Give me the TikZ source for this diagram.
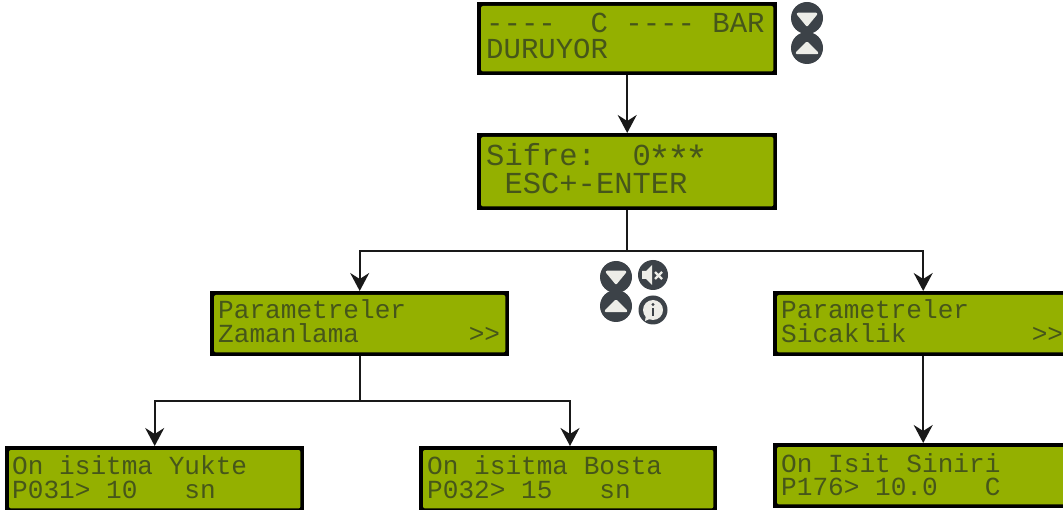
\documentclass[tikz,border=0pt]{standalone}
\usepackage{fontspec}
\newfontfamily\lcdfont{Liberation Mono}
\usetikzlibrary{arrows.meta}
\definecolor{lcdgreen}{HTML}{94B000}
\definecolor{lcdtext}{HTML}{46561A}
\definecolor{icondark}{HTML}{3C4248}
\definecolor{iconlight}{HTML}{EDEDE8}
\tikzset{
  lcdbox/.style={draw=none,fill=black,inner sep=0pt,minimum width=#1,anchor=north west},
  lcdface/.style={fill=lcdgreen,rounded corners=2pt},
  lcdline/.style={anchor=base west,inner sep=0pt,text=lcdtext,font=\lcdfont\fontsize{26.1}{26}\selectfont},
  lcdbig/.style={anchor=base west,inner sep=0pt,text=lcdtext,font=\lcdfont\fontsize{29}{29}\selectfont},
  lcdhuge/.style={anchor=base west,inner sep=0pt,text=lcdtext,font=\lcdfont\fontsize{30.5}{30.5}\selectfont},
  wire/.style={line width=2.2pt,draw=black!90},
  arrowwire/.style={wire,-{Stealth[length=18pt,width=19pt,inset=6pt]}},
  icondisc/.style={circle,fill=icondark,inner sep=0pt,minimum size=#1},
  icontri/.style={fill=iconlight,draw=iconlight,line width=2.5pt,line join=round}
}
\newcommand{\lcd}[5]{% name, x, y, w, h
  \node[lcdbox=#4pt,minimum height=#5pt] (#1) at (#2,#3) {};
  \fill[lcdface] ([xshift=4pt,yshift=-4pt]#1.north west) rectangle ([xshift=-4pt,yshift=4pt]#1.south east);
}
\newcommand{\lcdstar}{\makebox[18.36pt]{\raisebox{-7pt}{\fontsize{38}{38}\selectfont *}}}
\begin{document}
\begin{tikzpicture}[x=1pt,y=-1pt]
\useasboundingbox (0,0) rectangle (1063,510);
\clip (0,0) rectangle (1063,510);
\lcd{main}{477}{2}{300}{73}
\lcd{pass}{477}{133}{300}{77}
\lcd{pz}{210}{291}{299}{65}
\lcd{ps}{773}{291}{300}{65}
\lcd{a}{5}{446}{299}{66}
\lcd{b}{419}{446}{298}{66}
\lcd{c}{773}{443}{300}{65}
% texts
\node[lcdbig] (t1) at (486,33) {----\ \ C ---- BAR};
\node[lcdbig] (t2) at (486,59) {DURUYOR};
\node[lcdhuge] (t3) at (486,166) {Sifre:\ \ 0\lcdstar\lcdstar\lcdstar};
\node[lcdhuge] (t4) at (486,194) {\ ESC+-ENTER};
\node[lcdline] (t5) at (218,319) {Parametreler};
\node[lcdline] (t6) at (218,343) {Zamanlama\ \ \ \ \ \ \ >>};
\node[lcdline] (t7) at (781,319) {Parametreler};
\node[lcdline] (t8) at (781,343) {Sicaklik\ \ \ \ \ \ \ \ >>};
\node[lcdline] (t9) at (12,475) {On isitma Yukte};
\node[lcdline] (t10) at (12,498) {P031> 10\ \ \ sn};
\node[lcdline] (t11) at (427,475) {On isitma Bosta};
\node[lcdline] (t12) at (427,498) {P032> 15\ \ \ sn};
\node[lcdline] (t13) at (781,472) {On Isit Siniri};
\node[lcdline] (t14) at (781,495) {P176> 10.0\ \ \ C};
% connectors
\coordinate (j1) at (628,251);
\coordinate (j2) at (360,401);
\coordinate (tb) at (570,446);
\draw[arrowwire] (main.south) -- (pass.north);
\draw[wire] (pass.south) -- (pass.south |- j1);
\draw[arrowwire] (pass.south |- j1) -| (pz.north);
\draw[arrowwire] (pass.south |- j1) -| (ps.north);
\draw[wire] (pz.south) -- (pz.south |- j2);
\draw[arrowwire] (pz.south |- j2) -| (a.north);
\draw[arrowwire] (pz.south |- j2) -| (tb);
\draw[arrowwire] (ps.south) -- (c.north);
% top icons
\node[icondisc=32pt] (i1) at (807,18) {};
\node[icondisc=32pt] (i2) at (807,48) {};
\draw[icontri] (798,14) -- (816,14) -- (807,25) -- cycle;
\draw[icontri] (807,43) -- (817,53) -- (797,53) -- cycle;
% mid icons
\node[icondisc=32pt] (i3) at (616,277) {};
\node[icondisc=32pt] (i4) at (616,306) {};
\draw[icontri] (607,272) -- (625,272) -- (616,283) -- cycle;
\draw[icontri] (616,301) -- (626,311) -- (606,311) -- cycle;
\node[icondisc=30pt] (i5) at (653,275) {};
\fill[iconlight] (642,271) -- (646,271) -- (652,265) -- (652,285) -- (646,279) -- (642,279) -- cycle;
\draw[iconlight,line width=2.4pt] (655,272) -- (662,279) (662,272) -- (655,279);
\node[icondisc=29pt] (i6) at (653,310) {};
\fill[iconlight] (653,310) circle (10pt);
\fill[iconlight] (646,315) -- (645,321) -- (652,318) -- cycle;
\fill[icondark] (653,304.5) circle (1.7pt);
\fill[icondark] (651.6,308) rectangle (654.4,316);
\end{tikzpicture}
\end{document}
